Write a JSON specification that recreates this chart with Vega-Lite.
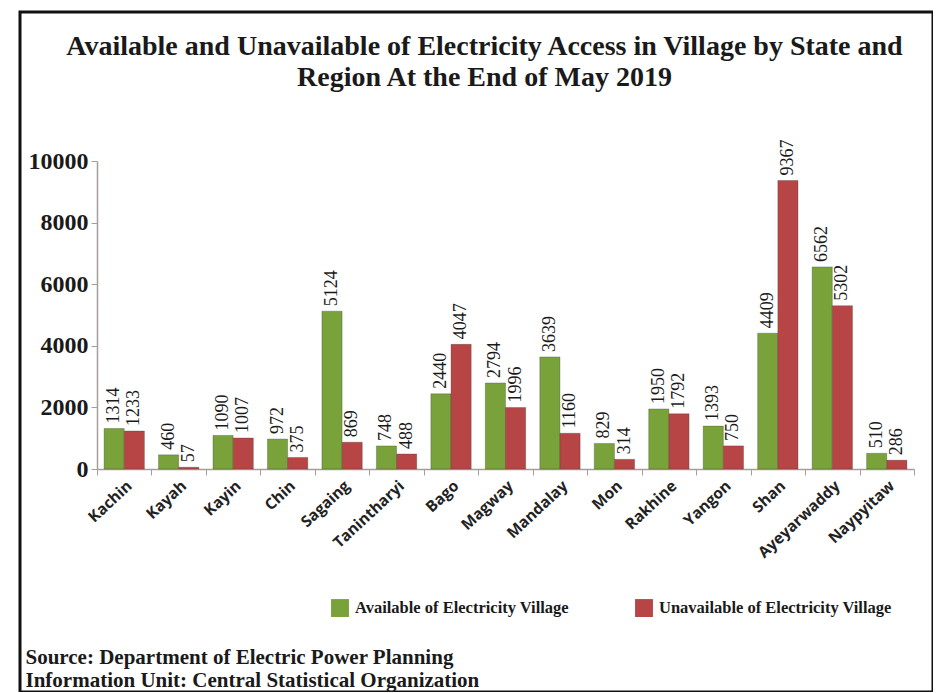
{
  "$schema": "https://vega.github.io/schema/vega-lite/v6.json",
  "autosize": {"type": "none"},
  "padding": {"left": 20, "top": 12, "right": 0, "bottom": 0},
  "width": 913,
  "height": 680,
  "background": "white",
  "config": {
    "view": {"stroke": "#111111", "strokeWidth": 3},
    "font": "Liberation Serif"
  },
  "title": {
    "text": ["Available and Unavailable of Electricity Access in Village by State and", "Region At the End of May 2019"],
    "font": "Liberation Serif",
    "fontSize": 28,
    "fontWeight": "bold",
    "color": "#1a1a1a",
    "anchor": "middle",
    "frame": "group",
    "orient": "top",
    "baseline": "top",
    "offset": -80,
    "dx": 8,
    "lineHeight": 31
  },
  "data": {
    "values": [
      {"region": "Kachin", "type": "Available of Electricity Village", "value": 1314},
      {"region": "Kachin", "type": "Unavailable of Electricity Village", "value": 1233},
      {"region": "Kayah", "type": "Available of Electricity Village", "value": 460},
      {"region": "Kayah", "type": "Unavailable of Electricity Village", "value": 57},
      {"region": "Kayin", "type": "Available of Electricity Village", "value": 1090},
      {"region": "Kayin", "type": "Unavailable of Electricity Village", "value": 1007},
      {"region": "Chin", "type": "Available of Electricity Village", "value": 972},
      {"region": "Chin", "type": "Unavailable of Electricity Village", "value": 375},
      {"region": "Sagaing", "type": "Available of Electricity Village", "value": 5124},
      {"region": "Sagaing", "type": "Unavailable of Electricity Village", "value": 869},
      {"region": "Tanintharyi", "type": "Available of Electricity Village", "value": 748},
      {"region": "Tanintharyi", "type": "Unavailable of Electricity Village", "value": 488},
      {"region": "Bago", "type": "Available of Electricity Village", "value": 2440},
      {"region": "Bago", "type": "Unavailable of Electricity Village", "value": 4047},
      {"region": "Magway", "type": "Available of Electricity Village", "value": 2794},
      {"region": "Magway", "type": "Unavailable of Electricity Village", "value": 1996},
      {"region": "Mandalay", "type": "Available of Electricity Village", "value": 3639},
      {"region": "Mandalay", "type": "Unavailable of Electricity Village", "value": 1160},
      {"region": "Mon", "type": "Available of Electricity Village", "value": 829},
      {"region": "Mon", "type": "Unavailable of Electricity Village", "value": 314},
      {"region": "Rakhine", "type": "Available of Electricity Village", "value": 1950},
      {"region": "Rakhine", "type": "Unavailable of Electricity Village", "value": 1792},
      {"region": "Yangon", "type": "Available of Electricity Village", "value": 1393},
      {"region": "Yangon", "type": "Unavailable of Electricity Village", "value": 750},
      {"region": "Shan", "type": "Available of Electricity Village", "value": 4409},
      {"region": "Shan", "type": "Unavailable of Electricity Village", "value": 9367},
      {"region": "Ayeyarwaddy", "type": "Available of Electricity Village", "value": 6562},
      {"region": "Ayeyarwaddy", "type": "Unavailable of Electricity Village", "value": 5302},
      {"region": "Naypyitaw", "type": "Available of Electricity Village", "value": 510},
      {"region": "Naypyitaw", "type": "Unavailable of Electricity Village", "value": 286}
    ]
  },
  "encoding": {
    "x": {
      "field": "region",
      "type": "nominal",
      "sort": null,
      "scale": {"range": [77, 894], "paddingInner": 0, "paddingOuter": 0},
      "axis": {
        "offset": -223,
        "labelAngle": -43,
        "labelAlign": "right",
        "labelBaseline": "top",
        "labelFont": "Open Sans",
        "labelFontWeight": "bold",
        "labelFontSize": 15.5,
        "labelColor": "#222222",
        "labelPadding": 3,
        "tickBand": "extent",
        "tickSize": 6,
        "tickColor": "#a89c9c",
        "domainColor": "#a89c9c",
        "domainWidth": 1.5,
        "title": ["Source: Department of Electric Power Planning", "Information Unit: Central Statistical Organization"],
        "titleFont": "Liberation Serif",
        "titleFontSize": 21,
        "titleFontWeight": "bold",
        "titleColor": "#1a1a1a",
        "titleAlign": "left",
        "titleAnchor": "start",
        "titleBaseline": "alphabetic",
        "titleLineHeight": 23,
        "titleX": 5,
        "titleY": 194
      }
    },
    "xOffset": {
      "field": "type",
      "type": "nominal",
      "scale": {"paddingInner": 0, "paddingOuter": 0.35}
    },
    "y": {
      "field": "value",
      "type": "quantitative",
      "scale": {"domain": [0, 10000], "range": [457, 149], "nice": false},
      "axis": {
        "offset": -77,
        "values": [0, 2000, 4000, 6000, 8000, 10000],
        "format": "d",
        "grid": false,
        "title": null,
        "labelFont": "Liberation Serif",
        "labelFontWeight": "bold",
        "labelFontSize": 24,
        "labelColor": "#1a1a1a",
        "labelPadding": 3,
        "tickSize": 6,
        "tickColor": "#a89c9c",
        "domainColor": "#a89c9c",
        "domainWidth": 1.5
      }
    }
  },
  "layer": [
    {
      "mark": {"type": "bar", "stroke": "#3a3a2a", "strokeWidth": 0.6, "strokeOpacity": 0.5},
      "encoding": {
        "color": {
          "field": "type",
          "type": "nominal",
          "scale": {"range": ["#79a23b", "#b84546"]},
          "legend": {
            "title": null,
            "orient": "none",
            "direction": "horizontal",
            "legendX": 311,
            "legendY": 587,
            "symbolType": "square",
            "symbolSize": 320,
            "symbolStrokeWidth": 0,
            "labelFont": "Liberation Serif",
            "labelFontWeight": "bold",
            "labelFontSize": 16.5,
            "labelColor": "#1a1a1a",
            "labelLimit": 400,
            "labelOffset": 6,
            "columnPadding": 66
          }
        }
      }
    },
    {
      "mark": {
        "type": "text",
        "angle": -90,
        "align": "left",
        "baseline": "middle",
        "dx": 5,
        "font": "Liberation Serif",
        "fontSize": 18,
        "color": "#1a1a1a"
      },
      "encoding": {
        "text": {"field": "value", "type": "quantitative", "format": "d"}
      }
    }
  ]
}
